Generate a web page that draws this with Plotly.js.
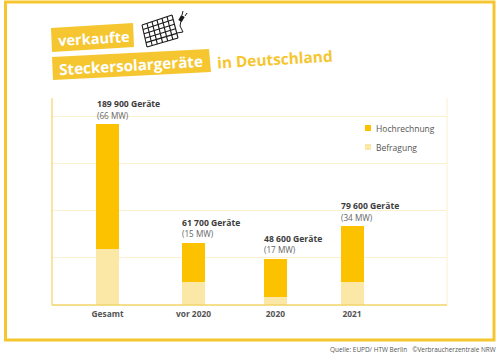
<!DOCTYPE html>
<html><head><meta charset="utf-8">
<script src="https://cdn.plot.ly/plotly-3.0.1.min.js"></script>
<style>html,body{margin:0;padding:0;background:#fff}#c{width:500px;height:358px}</style>
</head><body><div id="c"></div>
<script>
const categories = ['Gesamt','vor 2020','2020','2021'];
const axisSlots = [0, 1.055, 2.06, 3];
const befragung = [59.6, 24.3, 8.8, 24];
const hochrechnung = [131.9, 41.6, 40.2, 59.3];
const labelDevices = ['189 900 Geräte','61 700 Geräte','48 600 Geräte','79 600 Geräte'];
const labelPower = ['(66 MW)','(15 MW)','(17 MW)','(34 MW)'];
const gridValues = [50,100,150,200];

const W=500,H=358, yellow='#f5c62f', amber='#fcc200', pale='#fce8a6', dark='#3c3c3c';
const font='"Open Sans", sans-serif';
const px=x=>x/W, py=y=>1-y/H;
const X0=52,X1=447,Y0=305,Y1=98;
const unit=(Y0-116)/200;
const slotW=(352-107.5)/3;
const slotMin=-(107.5-X0)/slotW, slotMax=slotMin+(X1-X0)/slotW;
const totals=befragung.map((b,i)=>b+hochrechnung[i]);

const traces=[
 {type:'bar',name:'Befragung',x:axisSlots,y:befragung,width:23/slotW,marker:{color:pale},hoverinfo:'skip'},
 {type:'bar',name:'Hochrechnung',x:axisSlots,y:hochrechnung,width:23/slotW,marker:{color:amber},hoverinfo:'skip'}
];

function rect(x0,y0,x1,y1,color){return {type:'rect',xref:'paper',yref:'paper',x0:px(x0),x1:px(x1),y0:py(y0),y1:py(y1),fillcolor:color,line:{width:0},layer:'below'};}
function poly(pts,color){return {type:'path',xref:'paper',yref:'paper',path:'M'+pts.map(p=>px(p[0])+','+py(p[1])).join('L')+'Z',fillcolor:color,line:{width:0},layer:'below'};}
function seg(a,b,w,color){return {type:'line',xref:'paper',yref:'paper',x0:px(a[0]),y0:py(a[1]),x1:px(b[0]),y1:py(b[1]),line:{color:color||'#1a1a1a',width:w}};}

const shapes=[
 {type:'rect',xref:'paper',yref:'paper',x0:px(5.5),x1:px(494),y0:py(2),y1:py(340),line:{color:yellow,width:3},fillcolor:'rgba(0,0,0,0)',layer:'below'},
 poly([[51,28],[133,23],[134,47],[52,52]],yellow),
 poly([[52,57],[209,49],[211,72],[53,80]],yellow),
 seg([X0,Y1],[X0,Y0],1.5,'#f6dc86'),
 seg([X1,Y1],[X1,Y0],1,'#fbf0cf'),
 seg([X0,Y0],[X1,Y0],1.5,'#f3d466'),
 rect(365,125,371,131,amber),
 rect(365,144,371,150,pale)
];
const c=[[142,25],[172,15],[178,38],[147,47]];
const lerp=(a,b,t)=>[a[0]+(b[0]-a[0])*t,a[1]+(b[1]-a[1])*t];
for(let i=0;i<=6;i++) shapes.push(seg(lerp(c[0],c[1],i/6),lerp(c[3],c[2],i/6),1.1));
for(let i=0;i<=5;i++) shapes.push(seg(lerp(c[0],c[3],i/5),lerp(c[1],c[2],i/5),1.1));
shapes.push(seg([177,33],[183,32],1),seg([183,32],[180,26],1),seg([180,26],[181,21],1),
 seg([180,21],[183,16],4),seg([182,15],[183,11],1),seg([185,16],[187,13],1));

const ann=[];
function t(x,y,text,size,color,opts){ann.push(Object.assign({xref:'paper',yref:'paper',x:px(x),y:py(y),text,showarrow:false,xanchor:'left',yanchor:'middle',font:{family:font,size,color}},opts||{}));}
t(55,38,'<b>verkaufte</b>',14.6,'#fff',{textangle:-3.4});
t(56,65,'<b>Steckersolargeräte</b>',15.2,'#fff',{textangle:-3.4});
t(214,59,'<b>in Deutschland</b>',15.4,yellow,{textangle:-3.4});
t(374,128,'Hochrechnung',8.5,'#555');
t(374,147,'Befragung',8.5,'#555');
t(498,349,'Quelle: EUPD/ HTW Berlin   ©Verbraucherzentrale NRW',6.45,'#555',{xanchor:'right'});
axisSlots.forEach((s,i)=>{
 ann.push({xref:'x',yref:'y',x:s,y:totals[i],yshift:20,xshift:-13,text:'<b>'+labelDevices[i]+'</b>',showarrow:false,xanchor:'left',yanchor:'middle',font:{family:font,size:8.6,color:dark}});
 ann.push({xref:'x',yref:'y',x:s,y:totals[i],yshift:9,xshift:-13,text:labelPower[i],showarrow:false,xanchor:'left',yanchor:'middle',font:{family:font,size:8.2,color:'#666'}});
});

Plotly.newPlot('c',traces,{
 width:W,height:H,margin:{l:0,r:0,t:0,b:0},paper_bgcolor:'#fff',plot_bgcolor:'#fff',
 barmode:'stack',showlegend:false,
 xaxis:{domain:[px(X0),px(X1)],range:[slotMin,slotMax],tickmode:'array',tickvals:axisSlots,ticktext:categories.map(s=>'<b>'+s+'</b>'),ticks:'',ticklabelstandoff:3,showgrid:false,zeroline:false,showline:false,tickfont:{family:font,size:8.4,color:'#555'},automargin:false},
 yaxis:{domain:[py(Y0),py(Y1)],range:[0,(Y0-Y1)/unit],tickmode:'array',tickvals:gridValues,showticklabels:false,ticks:'',showgrid:true,gridcolor:'#fbf0cf',gridwidth:1,zeroline:false,showline:false,automargin:false},
 shapes,annotations:ann
},{displayModeBar:false,staticPlot:true});
</script></body></html>
